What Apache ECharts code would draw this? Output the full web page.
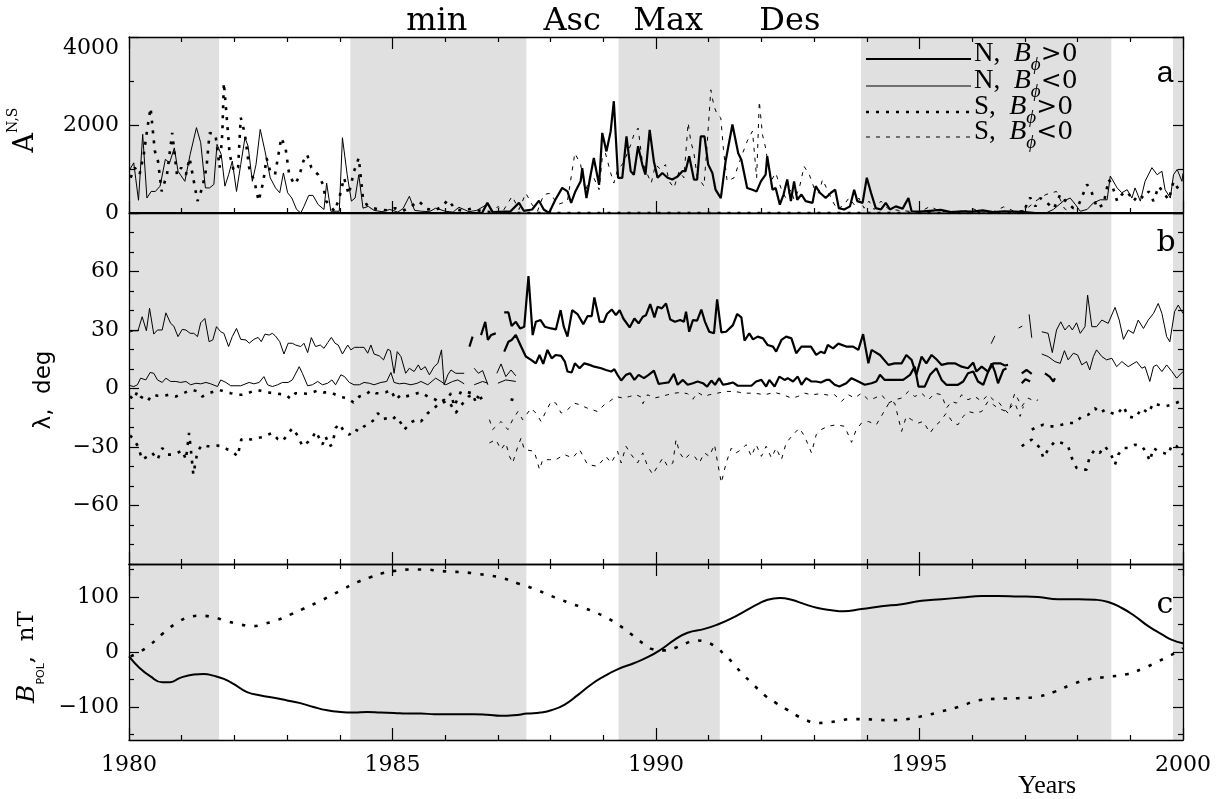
<!DOCTYPE html>
<html><head><meta charset="utf-8">
<script src="https://cdn.jsdelivr.net/npm/echarts@6/dist/echarts.min.js"></script>
<style>html,body{margin:0;padding:0;background:#fff}#c{width:1219px;height:799px}</style>
</head><body><div id="c"></div>
<script>
// ---------- DATA ----------
const xTicks = [1980, 1985, 1990, 1995, 2000];
const phaseLabels = [['min', 1985.84], ['Asc', 1988.41], ['Max', 1990.23], ['Des', 1992.54]];
const shadeRanges = [[1980, 1981.71], [1984.2, 1987.54], [1989.29, 1991.21], [1993.89, 1998.64], [1999.81, 2000]];

// Panel a: A^{N,S}
const aNpos = [[1980,0],[1986.7,0],[1986.8,230],[1986.9,20],[1987.24,40],[1987.4,230],[1987.49,50],[1987.65,80],[1987.78,280],[1987.87,80],[1987.97,0],[1988.09,300],[1988.22,570],[1988.32,490],[1988.39,230],[1988.47,490],[1988.57,720],[1988.6,1020],[1988.68,340],[1988.76,870],[1988.82,1250],[1988.92,640],[1988.98,1820],[1989.06,1400],[1989.14,1860],[1989.2,2540],[1989.28,800],[1989.36,800],[1989.44,1740],[1989.52,950],[1989.58,870],[1989.66,1520],[1989.74,1100],[1989.8,870],[1989.88,1890],[1989.96,1170],[1990.03,800],[1990.12,910],[1990.22,800],[1990.31,760],[1990.41,830],[1990.5,950],[1990.56,950],[1990.63,1290],[1990.72,760],[1990.78,760],[1990.85,1740],[1990.92,1740],[1990.99,1100],[1991.07,910],[1991.13,530],[1991.23,340],[1991.32,1170],[1991.45,2010],[1991.56,1360],[1991.62,1210],[1991.73,570],[1991.83,530],[1991.91,490],[1991.99,720],[1992.08,870],[1992.11,1290],[1992.21,530],[1992.27,570],[1992.35,190],[1992.42,420],[1992.49,760],[1992.56,270],[1992.62,720],[1992.68,300],[1992.76,420],[1992.84,270],[1992.97,230],[1993.03,610],[1993.11,460],[1993.22,340],[1993.32,460],[1993.4,530],[1993.47,110],[1993.57,80],[1993.68,150],[1993.76,530],[1993.82,270],[1993.92,230],[1994.0,800],[1994.08,460],[1994.17,110],[1994.27,80],[1994.36,230],[1994.44,80],[1994.55,150],[1994.68,100],[1994.79,340],[1994.85,40],[1995.0,30],[1995.2,50],[1995.4,70],[1995.6,20],[1995.8,40],[1996.0,30],[1996.2,60],[1996.4,20],[1996.6,40],[1996.8,30],[1997.0,20],[1997.2,0],[2000,0]];
const aNneg = [[1980.02,1000],[1980.09,1140],[1980.18,290],[1980.26,1790],[1980.34,340],[1980.42,490],[1980.5,490],[1980.59,610],[1980.69,1220],[1980.77,1140],[1980.86,1480],[1980.93,950],[1981.06,720],[1981.16,1330],[1981.28,1940],[1981.36,1600],[1981.45,570],[1981.53,570],[1981.61,650],[1981.67,1560],[1981.75,1330],[1981.82,610],[1981.89,870],[1981.96,1180],[1982.04,490],[1982.12,1100],[1982.2,1710],[1982.26,1520],[1982.34,720],[1982.41,1100],[1982.49,1900],[1982.58,1410],[1982.68,800],[1982.78,570],[1982.86,460],[1982.93,910],[1983.01,460],[1983.09,340],[1983.18,80],[1983.26,0],[1983.32,150],[1983.41,400],[1983.49,400],[1983.59,190],[1983.7,80],[1983.75,680],[1983.83,40],[1983.93,40],[1983.99,40],[1984.05,1710],[1984.14,870],[1984.22,270],[1984.29,340],[1984.36,870],[1984.44,110],[1984.54,150],[1984.65,60],[1984.8,30],[1984.95,80],[1985.1,20],[1985.2,100],[1985.32,380],[1985.42,60],[1985.55,40],[1985.7,30],[1985.82,110],[1986.0,40],[1986.15,20],[1986.26,130],[1986.45,30],[1986.6,60],[1986.8,200],[1986.92,20],[1987.1,10],[1987.5,0],[1997.4,0],[1997.54,80],[1997.73,270],[1997.86,340],[1997.96,190],[1998.05,40],[1998.18,80],[1998.3,230],[1998.43,300],[1998.56,300],[1998.62,840],[1998.75,570],[1998.84,460],[1998.94,530],[1999.03,340],[1999.09,570],[1999.19,270],[1999.28,720],[1999.41,1030],[1999.51,870],[1999.6,950],[1999.66,530],[1999.76,340],[1999.82,870],[1999.89,990],[1999.98,720],[2000,900]];
const aSpos = [[1980.03,800],[1980.11,1030],[1980.2,870],[1980.28,1330],[1980.35,1940],[1980.41,2390],[1980.49,1410],[1980.55,1180],[1980.62,490],[1980.72,870],[1980.82,1820],[1980.91,870],[1980.99,1030],[1981.08,870],[1981.15,1250],[1981.23,720],[1981.3,270],[1981.39,570],[1981.47,1030],[1981.53,1820],[1981.64,1790],[1981.72,1030],[1981.77,1790],[1981.8,2960],[1981.84,2390],[1981.91,1330],[1981.99,950],[1982.07,1030],[1982.12,2170],[1982.2,1790],[1982.28,1030],[1982.38,720],[1982.46,270],[1982.55,720],[1982.61,1250],[1982.68,950],[1982.77,870],[1982.89,1710],[1982.97,1480],[1983.04,870],[1983.14,650],[1983.22,800],[1983.31,1180],[1983.38,1330],[1983.46,1030],[1983.59,870],[1983.68,650],[1983.74,270],[1983.8,190],[1983.9,40],[1983.99,340],[1984.08,800],[1984.17,420],[1984.27,950],[1984.36,1250],[1984.44,340],[1984.51,190],[1984.6,120],[1984.75,80],[1984.9,60],[1985.05,110],[1985.2,50],[1985.35,150],[1985.5,270],[1985.65,90],[1985.8,60],[1985.95,150],[1986.05,300],[1986.2,80],[1986.35,50],[1986.5,100],[1986.7,40],[1986.9,20],[1987.1,0],[1996.9,0],[1997.0,100],[1997.1,350],[1997.2,150],[1997.29,340],[1997.45,200],[1997.55,100],[1997.67,420],[1997.8,230],[1997.92,110],[1998.02,190],[1998.18,650],[1998.27,460],[1998.37,110],[1998.49,190],[1998.59,760],[1998.65,650],[1998.75,270],[1998.84,420],[1998.94,490],[1999.06,270],[1999.16,420],[1999.25,340],[1999.35,490],[1999.44,270],[1999.54,610],[1999.63,460],[1999.73,300],[1999.82,720],[1999.92,530],[2000,570]];
const aSneg = [[1980,0],[1986.9,0],[1987.0,150],[1987.1,50],[1987.27,380],[1987.4,80],[1987.53,450],[1987.65,190],[1987.75,40],[1987.87,420],[1988.0,450],[1988.13,190],[1988.32,270],[1988.46,1360],[1988.57,1100],[1988.66,490],[1988.76,870],[1988.82,800],[1988.92,530],[1988.98,1250],[1989.04,1360],[1989.14,910],[1989.2,680],[1989.28,1020],[1989.36,1100],[1989.42,1250],[1989.52,1550],[1989.58,1780],[1989.66,1930],[1989.74,1170],[1989.84,870],[1989.91,680],[1989.99,1100],[1990.09,990],[1990.18,1100],[1990.25,720],[1990.34,570],[1990.44,950],[1990.53,800],[1990.61,2050],[1990.66,1630],[1990.72,1360],[1990.78,830],[1990.85,720],[1990.91,610],[1990.97,1550],[1991.04,2800],[1991.1,2430],[1991.16,2240],[1991.23,2160],[1991.28,1440],[1991.35,720],[1991.48,800],[1991.61,1250],[1991.73,1630],[1991.83,1860],[1991.91,800],[1991.96,2540],[1992.02,1780],[1992.08,1480],[1992.18,720],[1992.27,910],[1992.37,570],[1992.46,340],[1992.56,530],[1992.62,300],[1992.72,570],[1992.81,1060],[1992.91,870],[1993.0,570],[1993.09,450],[1993.16,760],[1993.25,530],[1993.35,270],[1993.44,80],[1993.57,190],[1993.66,340],[1993.76,190],[1993.85,340],[1993.95,110],[1994.04,270],[1994.14,80],[1994.27,270],[1994.4,100],[1994.6,60],[1994.8,40],[1995.0,20],[1995.2,150],[1995.4,30],[1995.6,40],[1995.8,20],[1996.0,100],[1996.2,20],[1996.4,30],[1996.6,140],[1996.8,40],[1997.0,60],[1997.2,270],[1997.4,420],[1997.6,490],[1997.75,100],[1997.9,0],[2000,0]];

// Panel b: latitude, deg (null = gap)
const bNnegUp = [[1980.02,29],[1980.09,29.6],[1980.17,29.6],[1980.25,36.8],[1980.33,29.6],[1980.39,41.1],[1980.47,27.9],[1980.54,30],[1980.63,30],[1980.7,38.8],[1980.79,33.4],[1980.85,32],[1980.93,26.6],[1981.01,30.3],[1981.08,30],[1981.16,28.3],[1981.23,28.3],[1981.3,26.6],[1981.36,33.7],[1981.44,35.9],[1981.52,24],[1981.59,24.9],[1981.66,31.7],[1981.74,29.1],[1981.8,28.3],[1981.89,21.5],[1981.96,26.6],[1982.04,30.8],[1982.12,25.2],[1982.22,24.9],[1982.28,23.2],[1982.37,25.2],[1982.45,26.2],[1982.51,24],[1982.58,27.9],[1982.66,27.4],[1982.72,28.3],[1982.78,26.9],[1982.86,24],[1982.94,17.7],[1983.02,23.2],[1983.1,23.2],[1983.16,22.3],[1983.26,21.5],[1983.32,23.2],[1983.39,18.4],[1983.46,26.1],[1983.54,21.5],[1983.63,22.3],[1983.7,20.6],[1983.77,23.5],[1983.84,26.2],[1983.91,23.2],[1983.97,22.3],[1984.05,17.7],[1984.15,22.3],[1984.21,19.8],[1984.28,21.1],[1984.37,21.1],[1984.46,21.1],[1984.53,18.1],[1984.59,22.3],[1984.65,17.7],[1984.75,16.7],[1984.83,14.7],[1984.91,20.1],[1984.96,19.4],[1985.03,7.8],[1985.09,18.9],[1985.16,16.4],[1985.25,7.8],[1985.32,10.4],[1985.41,8.7],[1985.49,12.1],[1985.54,9.5],[1985.62,11.2],[1985.7,7],[1985.79,11.2],[1985.86,12.9],[1985.93,19.8],[1985.98,1.9],[1986.05,7],[1986.11,9.5],[1986.2,7.8],[1986.36,7.8],[1986.45,null],[1986.55,10.4],[1986.63,7.8],[1986.71,9.2],[1986.81,1.9],[1986.9,null],[1986.98,7.8],[1987.06,12.6],[1987.15,6.1],[1987.25,9.5],[1987.34,6.5],[1987.4,null],[1996.36,23],[1996.43,27],[1996.6,null],[1996.88,31],[1996.95,32],[1997.0,null],[1997.08,38],[1997.13,26],[1997.2,null],[1997.32,29.1],[1997.44,28.3],[1997.52,18.4],[1997.6,30],[1997.68,34.2],[1997.76,30],[1997.84,32.5],[1997.9,30],[1997.98,33.7],[1998.05,28.3],[1998.14,31.7],[1998.19,47.9],[1998.27,31.7],[1998.36,31.7],[1998.46,35.1],[1998.58,33.4],[1998.71,41.6],[1998.79,35.1],[1998.87,25.2],[1998.96,30],[1999.06,28.3],[1999.15,35.1],[1999.25,30.8],[1999.34,35.1],[1999.44,38.5],[1999.53,43.6],[1999.6,38.5],[1999.69,26.6],[1999.75,24],[1999.84,39.4],[1999.91,42.8],[2000,38.5]];
const bNnegLow = [[1980.02,1.5],[1980.09,1],[1980.16,1.9],[1980.22,5.3],[1980.32,4.4],[1980.4,8.2],[1980.47,7.8],[1980.54,4.4],[1980.63,3.1],[1980.7,5.3],[1980.79,3.6],[1980.89,3.6],[1980.98,3.1],[1981.08,3.6],[1981.17,1.9],[1981.27,2.7],[1981.36,2.4],[1981.46,3.1],[1981.55,2.4],[1981.68,1],[1981.74,4.4],[1981.84,3.1],[1981.93,1.4],[1982.03,1.4],[1982.12,1.4],[1982.28,3.1],[1982.37,2.4],[1982.47,3.1],[1982.56,6.1],[1982.63,1.9],[1982.72,1],[1982.82,1.9],[1982.91,3.1],[1983.02,3.1],[1983.1,4.4],[1983.23,11.2],[1983.29,7.8],[1983.39,1.4],[1983.48,1.9],[1983.58,3.6],[1983.67,1.9],[1983.77,2.7],[1983.85,4.4],[1983.92,1.9],[1984.02,7],[1984.09,6.1],[1984.18,3.1],[1984.27,1.9],[1984.37,1.9],[1984.46,3.1],[1984.56,2.7],[1984.65,1.9],[1984.78,3.1],[1984.89,3.6],[1984.97,8.2],[1985.03,3.1],[1985.13,2.4],[1985.22,2.7],[1985.35,1.9],[1985.47,2.7],[1985.54,3.6],[1985.67,1.9],[1985.82,5.3],[1985.92,3.6],[1986.01,1.9],[1986.14,3.6],[1986.24,4.4],[1986.36,2.4],[1986.45,null],[1986.55,1.9],[1986.71,3.6],[1986.81,2.7],[1986.9,null],[1987,2.7],[1987.15,4.4],[1987.34,3.6],[1987.4,null],[1997.32,17.7],[1997.44,16.4],[1997.57,13.8],[1997.67,12.9],[1997.75,19.4],[1997.82,14.7],[1997.92,18.1],[1998,17.2],[1998.08,12.1],[1998.17,13.8],[1998.23,9.5],[1998.3,16.4],[1998.36,19.8],[1998.46,16.4],[1998.55,14.7],[1998.65,15.5],[1998.74,11.2],[1998.84,13.8],[1998.96,11.2],[1999.12,13.8],[1999.22,10.4],[1999.28,11.2],[1999.37,3.6],[1999.44,11.2],[1999.5,12.1],[1999.6,8.7],[1999.69,12.1],[1999.79,8.7],[1999.88,5.3],[2000,8.7]];
const bNposUp = [[1986.46,21.5],[1986.52,26.6],[1986.6,null],[1986.68,27.4],[1986.76,34.2],[1986.81,24.9],[1986.87,27.4],[1986.92,27.9],[1986.96,28.3],[1987.04,null],[1987.12,39],[1987.2,39],[1987.26,32],[1987.34,34.2],[1987.42,30.8],[1987.5,31.7],[1987.58,57.6],[1987.66,27.4],[1987.72,34.2],[1987.81,35.1],[1987.89,31.7],[1988.01,30.8],[1988.1,30.3],[1988.19,40.2],[1988.25,31.7],[1988.32,26.6],[1988.41,40.2],[1988.51,38.2],[1988.62,33],[1988.7,37.1],[1988.78,37.1],[1988.83,46.7],[1988.93,34.2],[1989.01,34.2],[1989.07,38.2],[1989.16,40.5],[1989.24,37.6],[1989.31,40.2],[1989.38,35.9],[1989.5,31.3],[1989.59,35.9],[1989.67,33.4],[1989.75,36.8],[1989.81,37.6],[1989.89,43.3],[1989.97,36.5],[1990.03,41.9],[1990.11,41.1],[1990.19,43.6],[1990.27,35.4],[1990.36,34.2],[1990.46,35.1],[1990.53,34.2],[1990.57,39.4],[1990.63,29.1],[1990.7,35.1],[1990.78,34.8],[1990.86,40.5],[1990.93,34.2],[1991.01,29.1],[1991.1,28.3],[1991.16,45.7],[1991.24,28.8],[1991.33,29.1],[1991.46,32.5],[1991.54,38.2],[1991.62,36.5],[1991.68,24.5],[1991.77,28.3],[1991.84,25.2],[1991.93,26.6],[1992.03,25.7],[1992.12,22.3],[1992.22,21.5],[1992.28,18.9],[1992.38,24.9],[1992.47,26.6],[1992.57,25.7],[1992.66,18.1],[1992.76,21.5],[1992.85,21.5],[1992.94,21.5],[1993.04,17.2],[1993.13,18.9],[1993.2,18.1],[1993.26,22.3],[1993.36,20.6],[1993.46,23],[1993.61,21.5],[1993.74,21.5],[1993.84,19.8],[1993.93,27.9],[1994.03,12.9],[1994.09,19.8],[1994.25,17.2],[1994.41,12.1],[1994.53,12.9],[1994.66,12.9],[1994.75,17.2],[1994.85,14.7],[1994.94,7],[1995.04,16.4],[1995.13,12.9],[1995.23,17.2],[1995.32,15],[1995.42,12.1],[1995.54,12.9],[1995.67,12.9],[1995.8,11.2],[1995.92,10.4],[1996.02,13.3],[1996.08,8.7],[1996.18,11.2],[1996.3,8.7],[1996.4,12.9],[1996.53,12.9],[1996.62,11.8],[1996.68,12.1],[1996.8,null],[1996.94,7.8],[1997.03,9.5],[1997.13,7.5]];
const bNposLow = [[1987.12,18.9],[1987.2,24],[1987.26,24.9],[1987.34,27.4],[1987.44,21.5],[1987.53,16.4],[1987.63,14.7],[1987.72,12.9],[1987.79,17.2],[1987.86,12.6],[1987.94,19.8],[1988.02,15.5],[1988.1,17.2],[1988.2,16.7],[1988.27,13.8],[1988.32,8.7],[1988.4,8.2],[1988.46,12.9],[1988.55,10.4],[1988.64,12.9],[1988.74,12.1],[1988.83,11.2],[1988.96,10.4],[1989.05,9.5],[1989.15,8.7],[1989.21,9.9],[1989.27,7],[1989.34,4.1],[1989.43,7],[1989.51,7.8],[1989.59,4.4],[1989.67,7],[1989.77,5.3],[1989.86,7],[1989.96,9.2],[1990.05,2.4],[1990.13,2.7],[1990.24,3.1],[1990.34,7.5],[1990.41,1.9],[1990.51,4.4],[1990.6,1.9],[1990.7,2.7],[1990.79,3.6],[1990.89,2.7],[1990.97,1],[1991.05,4.1],[1991.12,1.9],[1991.2,5.3],[1991.27,1.9],[1991.36,2.4],[1991.46,3.1],[1991.55,1.4],[1991.68,1.4],[1991.81,1.4],[1991.9,3.6],[1992,4.4],[1992.09,1],[1992.15,4.4],[1992.25,1],[1992.34,6.1],[1992.44,4.4],[1992.5,5.3],[1992.6,3.6],[1992.69,6.1],[1992.76,1.9],[1992.85,5.3],[1992.95,3.6],[1993.04,3.6],[1993.13,3.1],[1993.23,4.4],[1993.29,4.4],[1993.39,1.9],[1993.48,1],[1993.61,2.7],[1993.71,5.3],[1993.84,3.6],[1993.96,1.9],[1994.09,2.7],[1994.18,3.6],[1994.25,7],[1994.34,4.4],[1994.44,4.4],[1994.56,4.4],[1994.69,4.4],[1994.82,7],[1994.91,11.2],[1994.98,1],[1995.1,1],[1995.2,7],[1995.32,10.4],[1995.42,4.4],[1995.51,1.9],[1995.61,1.9],[1995.73,1.9],[1995.83,3.6],[1995.92,7.8],[1996.02,8.7],[1996.11,3.6],[1996.21,1.9],[1996.29,7.8],[1996.37,12.9],[1996.43,8.7],[1996.49,2.7],[1996.59,9.5],[1996.65,10.4],[1996.8,null],[1996.94,2.7],[1997.01,4.8],[1997.1,3.6],[1997.25,null],[1997.38,7.8],[1997.47,6.1],[1997.54,3.6],[1997.57,5.3]];
const bSposUp = [[1980.02,-4],[1980.09,-5.8],[1980.16,-1.5],[1980.22,-4.1],[1980.35,-6.6],[1980.44,-3.2],[1980.54,-3.7],[1980.66,-3.7],[1980.76,-3.2],[1980.89,-4.1],[1981.01,-2.7],[1981.11,-1.5],[1981.2,-0.7],[1981.3,-1.5],[1981.39,-4.1],[1981.49,-2.7],[1981.61,-1.5],[1981.71,-0.7],[1981.8,-1.5],[1981.93,-2.4],[1982.06,-3.2],[1982.15,-3.2],[1982.25,-2.4],[1982.34,-1.5],[1982.44,-0.7],[1982.53,-1.5],[1982.63,-2],[1982.75,-2.4],[1982.88,-2.9],[1982.97,-3.2],[1983.07,-5.3],[1983.16,-2.4],[1983.26,-2.4],[1983.39,-2.7],[1983.48,-2],[1983.58,-1],[1983.7,-2],[1983.83,-2],[1983.92,-3.2],[1984.02,-4.4],[1984.15,-4.9],[1984.26,-7.2],[1984.37,-4.1],[1984.49,-3.2],[1984.59,-1],[1984.68,-2.4],[1984.78,-2.4],[1984.87,-2],[1984.97,-0.7],[1985.06,-5.8],[1985.16,-3.2],[1985.25,-4.1],[1985.38,-3.2],[1985.47,-2.4],[1985.54,-2],[1985.67,-4.1],[1985.82,-5.8],[1985.92,-7.5],[1986.01,-6.6],[1986.11,-2.4],[1986.17,-9.2],[1986.3,-1.5],[1986.43,-2],[1986.52,-2.4],[1986.58,-7.2],[1986.68,-4.9],[1986.74,-4.1],[1986.8,null],[1987.24,-5.5],[1987.31,-6],[1987.4,null],[1997.13,-21.1],[1997.25,-19.4],[1997.35,-18.6],[1997.44,-19.4],[1997.57,-19.4],[1997.7,-18.6],[1997.82,-17.7],[1997.95,-17.7],[1998.08,-14.3],[1998.2,-13.5],[1998.33,-10.1],[1998.42,-12.6],[1998.52,-10.9],[1998.65,-12.6],[1998.74,-13.5],[1998.87,-9.2],[1998.96,-14.3],[1999.09,-15.2],[1999.22,-10.1],[1999.34,-12.6],[1999.44,-7.5],[1999.53,-8.3],[1999.66,-9.2],[1999.79,-8.3],[1999.94,-6.6],[2000,-7.8]];
const bSposLow = [[1980.02,-24],[1980.09,-26.2],[1980.17,-29.6],[1980.25,-36.5],[1980.35,-34.8],[1980.44,-33],[1980.54,-36.5],[1980.63,-30.5],[1980.73,-33.9],[1980.82,-33.9],[1980.92,-33],[1981.01,-31.7],[1981.08,-36.5],[1981.14,-22.8],[1981.18,-33],[1981.22,-44.1],[1981.3,-32.2],[1981.39,-28.8],[1981.49,-29.6],[1981.58,-29.6],[1981.68,-29.3],[1981.77,-29.6],[1981.87,-31.3],[1981.96,-32.2],[1982.06,-34.8],[1982.13,-26.2],[1982.22,-25.4],[1982.31,-26.2],[1982.44,-25.4],[1982.53,-24.9],[1982.63,-23.7],[1982.72,-22.8],[1982.82,-25.9],[1982.91,-27.1],[1983.01,-23.7],[1983.1,-20.3],[1983.2,-24.2],[1983.29,-29.6],[1983.39,-27.6],[1983.48,-25.4],[1983.54,-22],[1983.61,-25.4],[1983.67,-28.8],[1983.73,-24.5],[1983.8,-29.6],[1983.86,-28.8],[1983.92,-20.3],[1983.99,-18.1],[1984.08,-22],[1984.18,-23.7],[1984.27,-20.8],[1984.37,-22],[1984.46,-19.4],[1984.56,-18.1],[1984.65,-16],[1984.72,-12.6],[1984.81,-15.7],[1984.91,-15.2],[1985,-16],[1985.06,-14.3],[1985.16,-17.7],[1985.22,-21.1],[1985.32,-18.6],[1985.38,-16.9],[1985.47,-16],[1985.54,-16.9],[1985.67,-12.6],[1985.76,-10.9],[1985.89,-7.5],[1985.98,-5.8],[1986.1,-8],[1986.2,-12.5],[1986.35,-7],[1986.45,-4],[1986.55,-3],[1986.65,-5],[1986.75,null],[1996.94,-29.6],[1997.03,-27.9],[1997.13,-26.2],[1997.19,-27.9],[1997.29,-30.5],[1997.35,-35.6],[1997.44,-31.3],[1997.57,-27.1],[1997.7,-27.9],[1997.82,-29.6],[1997.89,-35.6],[1997.98,-40.7],[1998.08,-41.6],[1998.17,-41.6],[1998.23,-34.8],[1998.33,-31.3],[1998.42,-33],[1998.52,-29.6],[1998.65,-34.8],[1998.71,-39],[1998.77,-33.9],[1998.87,-30.5],[1998.96,-30.5],[1999.09,-28.8],[1999.22,-29.6],[1999.31,-33],[1999.37,-37.3],[1999.44,-30.5],[1999.53,-32.2],[1999.63,-33],[1999.72,-33.9],[1999.79,-28.8],[1999.88,-29.6],[2000,-33.9]];
const bSnegUp = [[1986.84,-16],[1986.9,-21.1],[1987.06,-16.9],[1987.19,-21.1],[1987.28,-16],[1987.38,-11.8],[1987.47,-16],[1987.63,-10.1],[1987.72,-12.6],[1987.82,-16.9],[1987.91,-11.8],[1988.01,-6.6],[1988.1,-7.5],[1988.2,-12.6],[1988.32,-10.9],[1988.45,-7.5],[1988.55,-8.3],[1988.7,-10.1],[1988.89,-11.8],[1989.02,-8.3],[1989.12,-6.6],[1989.24,-4.1],[1989.37,-4.9],[1989.5,-4.1],[1989.62,-3.2],[1989.72,-4.4],[1989.75,-7.8],[1989.84,-3.2],[1989.97,-4.9],[1990.1,-4.1],[1990.22,-3.2],[1990.35,-2.4],[1990.48,-2],[1990.6,-2.7],[1990.7,-5.5],[1990.79,-2],[1990.92,-4.1],[1991.01,-3.2],[1991.17,-2.4],[1991.3,-1.5],[1991.49,-1.5],[1991.68,-2.4],[1991.87,-2.4],[1992.06,-3.2],[1992.25,-2],[1992.41,-3.2],[1992.57,-4.9],[1992.69,-4.1],[1992.82,-2.4],[1992.95,-3.2],[1993.13,-2.7],[1993.33,-3.7],[1993.39,-3.2],[1993.52,-6.6],[1993.65,-3.2],[1993.77,-4.9],[1993.9,-2.4],[1994.03,-5.8],[1994.15,-4.9],[1994.28,-3.2],[1994.41,-7.5],[1994.53,-5.8],[1994.66,-4.9],[1994.79,-1.5],[1994.91,-4.1],[1995.04,-2.4],[1995.17,-5.8],[1995.29,-2.4],[1995.42,-3.2],[1995.51,-10.1],[1995.61,-6.6],[1995.7,-7.5],[1995.8,-3.2],[1995.92,-5.8],[1996.05,-4.1],[1996.18,-6.6],[1996.3,-3.2],[1996.4,-5.8],[1996.49,-6.6],[1996.59,-10.1],[1996.68,-12.6],[1996.81,-2.4],[1996.94,-9.2],[1997.06,-4.9],[1997.19,-6.6],[1997.25,-5.8]];
const bSnegLow = [[1986.84,-27.9],[1986.96,-26.2],[1987.06,-31.3],[1987.15,-27.9],[1987.22,-34.8],[1987.28,-38.2],[1987.38,-29.6],[1987.44,-25.4],[1987.5,-31.3],[1987.69,-32.2],[1987.79,-41.6],[1987.85,-36.5],[1987.98,-36.5],[1988.1,-36.5],[1988.26,-33.9],[1988.42,-35.6],[1988.55,-31.3],[1988.7,-39],[1988.89,-39.9],[1989.05,-34.8],[1989.15,-38.2],[1989.27,-32.2],[1989.34,-38.2],[1989.43,-29.6],[1989.53,-33.9],[1989.65,-38.2],[1989.75,-33],[1989.84,-39.9],[1989.94,-44.1],[1990.03,-39.9],[1990.13,-35.6],[1990.22,-39.9],[1990.32,-38.2],[1990.38,-26.2],[1990.45,-33],[1990.54,-36.5],[1990.63,-33.9],[1990.73,-34.8],[1990.82,-38.2],[1990.92,-33],[1991.01,-34.8],[1991.11,-28.8],[1991.17,-38.2],[1991.24,-48.4],[1991.33,-38.2],[1991.43,-30.5],[1991.52,-33],[1991.62,-31.3],[1991.71,-28.8],[1991.81,-34.8],[1991.9,-28.8],[1992,-34.8],[1992.09,-29.6],[1992.19,-35.6],[1992.28,-30.5],[1992.38,-36.5],[1992.47,-27.9],[1992.6,-23.7],[1992.72,-20.3],[1992.82,-24.5],[1992.95,-33],[1993.04,-23.7],[1993.13,-21.1],[1993.26,-19.4],[1993.42,-18.6],[1993.58,-19.4],[1993.71,-27.6],[1993.8,-21.1],[1993.9,-17.7],[1994.03,-16.9],[1994.18,-18.6],[1994.31,-12.6],[1994.44,-6.6],[1994.53,-7.5],[1994.66,-22],[1994.75,-14.3],[1994.85,-16],[1994.98,-17.7],[1995.07,-16.9],[1995.2,-22.8],[1995.29,-19.4],[1995.39,-16.9],[1995.51,-12.6],[1995.64,-17.7],[1995.73,-18.6],[1995.83,-14.3],[1995.92,-11.8],[1996.05,-12.6],[1996.18,-11.8],[1996.3,-6.6],[1996.4,-8.3],[1996.49,-10.1],[1996.65,-11.8],[1996.81,-7.5],[1996.91,-14.3],[1996.97,-9.2]];

// Panel c: polar field, nT
const cSolid = [[1980,-8],[1980.2,-29],[1980.4,-44],[1980.63,-55],[1980.78,-55],[1980.97,-47],[1981.23,-41],[1981.42,-40],[1981.6,-43],[1981.8,-49],[1982,-59],[1982.24,-73],[1982.5,-79],[1982.75,-83],[1983,-88],[1983.25,-93],[1983.5,-100],[1983.76,-106],[1984.01,-109],[1984.27,-110],[1984.52,-109],[1984.77,-110],[1985.03,-111],[1985.28,-112],[1985.54,-112],[1985.8,-113],[1986.04,-113],[1986.3,-113],[1986.55,-113],[1986.8,-114],[1987.05,-116],[1987.3,-115],[1987.56,-112],[1987.81,-110],[1988.01,-106],[1988.26,-96],[1988.52,-78],[1988.77,-59],[1989.02,-44],[1989.28,-31],[1989.59,-20],[1989.85,-9],[1990.1,5],[1990.35,22],[1990.6,35],[1990.92,42],[1991.17,50],[1991.43,61],[1991.68,74],[1991.93,87],[1992.12,95],[1992.35,98],[1992.57,95],[1992.82,87],[1993.07,80],[1993.33,76],[1993.55,74],[1993.9,78],[1994.28,83],[1994.66,87],[1995.04,93],[1995.42,96],[1995.8,99],[1996.18,102],[1996.5,102],[1996.87,101],[1997.25,100],[1997.63,96],[1998.01,96],[1998.33,95],[1998.58,91],[1998.84,80],[1999.09,65],[1999.34,47],[1999.6,32],[1999.79,22],[2000,16]];
const cDotted = [[1980.03,-8],[1980.2,0],[1980.4,13],[1980.66,35],[1980.91,53],[1981.16,64],[1981.35,66],[1981.6,63],[1981.86,56],[1982.11,50],[1982.34,47],[1982.56,51],[1982.81,58],[1983.06,68],[1983.32,79],[1983.57,90],[1983.82,102],[1984.08,115],[1984.33,127],[1984.58,136],[1984.84,144],[1985.09,148],[1985.34,150],[1985.6,150],[1985.85,148],[1986.1,146],[1986.35,145],[1986.61,142],[1986.86,139],[1987.11,134],[1987.37,125],[1987.57,119],[1987.76,112],[1988.01,102],[1988.2,95],[1988.39,88],[1988.61,81],[1988.8,74],[1988.99,66],[1989.18,56],[1989.37,44],[1989.56,30],[1989.75,16],[1989.94,5],[1990.16,3],[1990.35,7],[1990.57,16],[1990.76,21],[1990.95,18],[1991.14,9],[1991.3,-5],[1991.46,-20],[1991.62,-38],[1991.78,-53],[1991.93,-67],[1992.09,-81],[1992.28,-93],[1992.47,-104],[1992.66,-115],[1992.85,-124],[1993.04,-129],[1993.26,-128],[1993.48,-125],[1993.7,-122],[1993.93,-122],[1994.15,-123],[1994.4,-124],[1994.66,-123],[1995.04,-117],[1995.42,-108],[1995.8,-98],[1996.11,-88],[1996.49,-85],[1996.87,-84],[1997.25,-81],[1997.57,-72],[1997.89,-59],[1998.2,-50],[1998.58,-45],[1998.9,-41],[1999.22,-31],[1999.47,-20],[1999.72,-8],[1999.91,1],[2000,7]];
const cMajorTicks = [-100, 0, 100];
const cMinorTicks = [-150, -50, 50, 150];

// ---------- CHART ----------
const chart = echarts.init(document.getElementById('c'));
const SERIF = 'DejaVu Serif';
const toData = arr => arr.map(p => [p[0], p[1] === null ? '-' : p[1]]);
const minus = v => String(v).replace('-', '\u2212');

const GL = 129, GW = 1054;
const grids = [
  { left: GL, width: GW, top: 37, height: 176 },
  { left: GL, width: GW, top: 213, height: 351 },
  { left: GL, width: GW, top: 564, height: 176 }
];
const lineS = { color: '#000', width: 1.3 };
const tickS = { color: '#000', width: 1.2 };

function xAx(g, pos, labels) {
  return {
    type: 'value', gridIndex: g, position: pos, min: 1980, max: 2000, interval: 5, z: 10,
    axisLine: { show: true, onZero: false, lineStyle: lineS },
    axisTick: { show: true, inside: true, length: 12, lineStyle: tickS },
    minorTick: { show: true, splitNumber: 5, length: 5, lineStyle: tickS },
    splitLine: { show: false }, minorSplitLine: { show: false },
    axisLabel: { show: labels, color: '#000', fontFamily: SERIF, fontSize: 22, margin: 14,
      formatter: v => xTicks.includes(v) ? String(v) : '' }
  };
}
const xAxes = [xAx(0, 'bottom', false), xAx(0, 'top', false), xAx(1, 'bottom', false), xAx(2, 'bottom', true), xAx(2, 'top', false)];

function yAx(g, pos, o) {
  const base = {
    type: 'value', gridIndex: g, position: pos, z: 10,
    axisLine: { show: true, onZero: false, lineStyle: lineS },
    axisTick: { show: true, inside: true, length: 10, lineStyle: tickS },
    minorTick: { show: true, length: 5, lineStyle: tickS },
    splitLine: { show: false }, minorSplitLine: { show: false },
    axisLabel: { show: pos === 'left', color: '#000', fontFamily: SERIF, fontSize: 22, margin: 10, formatter: v => minus(v) }
  };
  return echarts.util.merge(base, o, true);
}
const yAxes = [
  yAx(0, 'left', { min: 0, max: 4000, interval: 2000, minorTick: { splitNumber: 2 }, axisLabel: { verticalAlignMaxLabel: 'top' } }),
  yAx(0, 'right', { min: 0, max: 4000, interval: 2000, minorTick: { splitNumber: 2 } }),
  yAx(1, 'left', { min: -90, max: 90, interval: 30, minorTick: { splitNumber: 3 }, axisLabel: { formatter: v => Math.abs(v) === 90 ? '' : minus(v) } }),
  yAx(1, 'right', { min: -90, max: 90, interval: 30, minorTick: { splitNumber: 3 } }),
  yAx(2, 'left', { min: -160, max: 160, minorTick: { show: false }, axisTick: { customValues: cMajorTicks }, axisLabel: { customValues: cMajorTicks } }),
  yAx(2, 'right', { min: -160, max: 160, minorTick: { show: false }, axisTick: { customValues: cMajorTicks } }),
  yAx(2, 'left', { min: -160, max: 160, axisLine: { show: false }, minorTick: { show: false }, axisTick: { length: 5, customValues: cMinorTicks }, axisLabel: { show: false } }),
  yAx(2, 'right', { min: -160, max: 160, axisLine: { show: false }, minorTick: { show: false }, axisTick: { length: 5, customValues: cMinorTicks }, axisLabel: { show: false } })
];

const STY = {
  Npos: { color: '#000', width: 2.2, type: 'solid' },
  Nneg: { color: '#000', width: 1, type: 'solid' },
  Spos: { color: '#000', width: 2.6, type: [3, 7], cap: 'butt' },
  Sneg: { color: '#000', width: 1, type: [4, 6], cap: 'butt' }
};
function ln(data, xi, yi, style, smooth) {
  return { type: 'line', xAxisIndex: xi, yAxisIndex: yi, data: toData(data), showSymbol: false, symbol: 'none',
    lineStyle: style, smooth: !!smooth, connectNulls: false, z: 3, animation: false, silent: true };
}
function shade(xi, yi) {
  return { type: 'line', xAxisIndex: xi, yAxisIndex: yi, data: [], z: 1, silent: true, animation: false,
    markArea: { silent: true, itemStyle: { color: '#e0e0e0' }, label: { show: false },
      data: shadeRanges.map(r => [{ xAxis: r[0] }, { xAxis: r[1] }]) } };
}
const series = [
  shade(0, 0), shade(2, 2), shade(3, 4),
  ln(aSneg, 0, 0, STY.Sneg), ln(aSpos, 0, 0, STY.Spos), ln(aNneg, 0, 0, STY.Nneg), ln(aNpos, 0, 0, STY.Npos),
  ln(bSnegUp, 2, 2, STY.Sneg), ln(bSnegLow, 2, 2, STY.Sneg), ln(bSposUp, 2, 2, STY.Spos), ln(bSposLow, 2, 2, STY.Spos),
  ln(bNnegUp, 2, 2, STY.Nneg), ln(bNnegLow, 2, 2, STY.Nneg), ln(bNposUp, 2, 2, STY.Npos), ln(bNposLow, 2, 2, STY.Npos),
  ln(cDotted, 3, 4, { color: '#000', width: 2.6, type: [3.5, 9], cap: 'butt' }, true),
  ln(cSolid, 3, 4, { color: '#000', width: 2, type: 'solid' }, true)
];

// ---------- TEXT / LEGEND ----------
const x2px = t => GL + (t - 1980) / 20 * GW;
const graphic = [];
phaseLabels.forEach(p => graphic.push({ type: 'text', x: x2px(p[1]), y: 22, z: 20,
  style: { text: p[0], fill: '#000', font: '32px "DejaVu Serif"', align: 'center', verticalAlign: 'middle' } }));
graphic.push({ type: 'text', x: 1165, y: 74, z: 20, style: { text: 'a', fill: '#000', font: '30px "Liberation Sans"', align: 'center', verticalAlign: 'middle' } });
graphic.push({ type: 'text', x: 1166, y: 243, z: 20, style: { text: 'b', fill: '#000', font: '30px "DejaVu Serif"', align: 'center', verticalAlign: 'middle' } });
graphic.push({ type: 'text', x: 1165, y: 605, z: 20, style: { text: 'c', fill: '#000', font: '30px "DejaVu Serif"', align: 'center', verticalAlign: 'middle' } });
graphic.push({ type: 'text', x: 1047, y: 786, z: 20, style: { text: 'Years', fill: '#000', font: '26px "Liberation Serif"', align: 'center', verticalAlign: 'middle' } });

// rotated axis names
graphic.push({ type: 'text', x: 26, y: 130, rotation: Math.PI / 2, z: 20, style: {
  text: '{a|A}{p|N,S}', align: 'center', verticalAlign: 'middle',
  rich: { a: { fontFamily: 'DejaVu Serif', fontSize: 27, lineHeight: 40, fill: '#000' },
          p: { fontFamily: 'DejaVu Serif', fontSize: 14, lineHeight: 18, verticalAlign: 'top', fill: '#000' } } } });
graphic.push({ type: 'text', x: 44, y: 390, rotation: Math.PI / 2, z: 20, style: {
  text: 'λ,  deg', fill: '#000', font: '23px "DejaVu Sans"', align: 'center', verticalAlign: 'middle' } });
graphic.push({ type: 'text', x: 27, y: 657, rotation: Math.PI / 2, z: 20, style: {
  text: '{b|B}{s|POL}{t|,  nT}', align: 'center', verticalAlign: 'middle',
  rich: { b: { fontFamily: 'DejaVu Serif', fontStyle: 'italic', fontSize: 25, lineHeight: 40, fill: '#000' },
          s: { fontFamily: 'DejaVu Sans', fontSize: 11, lineHeight: 18, verticalAlign: 'bottom', fill: '#000' },
          t: { fontFamily: 'DejaVu Serif', fontSize: 23, lineHeight: 40, fill: '#000' } } } });

// legend
const legRows = [
  { lab: 'N', sign: '>0', st: STY.Npos },
  { lab: 'N', sign: '<0', st: STY.Nneg },
  { lab: 'S', sign: '>0', st: STY.Spos },
  { lab: 'S', sign: '<0', st: STY.Sneg }
];
const legY = [59, 86, 112, 137];
legRows.forEach((r, i) => {
  graphic.push({ type: 'line', z: 20, shape: { x1: 866, y1: legY[i], x2: 971, y2: legY[i] },
    style: { stroke: '#000', lineWidth: r.st.width, lineDash: r.st.type === 'solid' ? null : r.st.type } });
  graphic.push({ type: 'text', x: 974, y: legY[i] - 5, z: 20, style: {
    text: '{t|' + r.lab + ',  }{i|B}{s|ϕ}{g|' + r.sign + '}', align: 'left', verticalAlign: 'middle',
    rich: { t: { fontFamily: 'Liberation Serif', fontSize: 27, lineHeight: 40, fill: '#000' },
            i: { fontFamily: 'Liberation Serif', fontStyle: 'italic', fontSize: 28, lineHeight: 40, fill: '#000' },
            s: { fontFamily: 'Liberation Serif', fontStyle: 'italic', fontSize: 19, lineHeight: 14, verticalAlign: 'bottom', fill: '#000' },
            g: { fontFamily: 'DejaVu Serif', fontSize: 25, lineHeight: 40, fill: '#000' } } } });
});

chart.setOption({
  animation: false,
  backgroundColor: '#fff',
  grid: grids,
  xAxis: xAxes,
  yAxis: yAxes,
  series: series,
  graphic: graphic
});
</script></body></html>
